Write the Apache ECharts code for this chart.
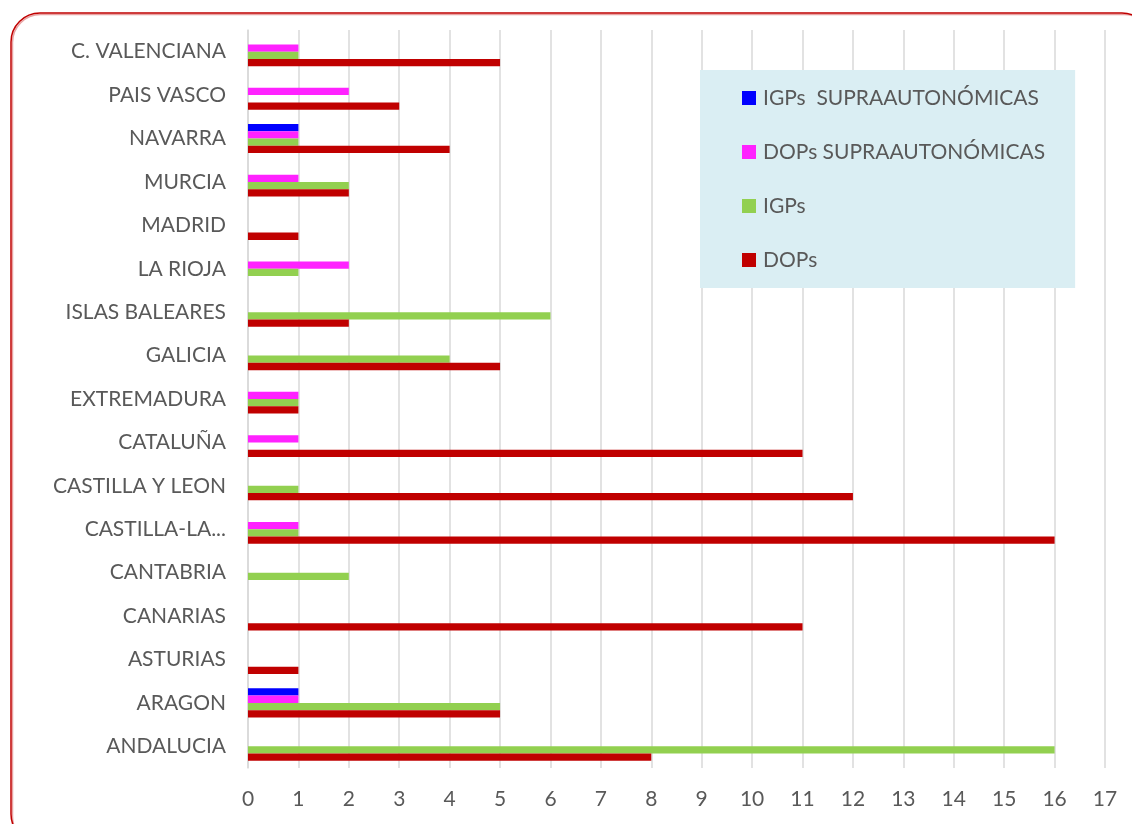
<!DOCTYPE html>
<html>
<head>
<meta charset="utf-8">
<script src="https://cdn.jsdelivr.net/npm/echarts@6/dist/echarts.min.js"></script>
<style>
  html, body { margin: 0; padding: 0; background: #fff; }
  #chart { width: 1132px; height: 824px; }
</style>
</head>
<body>
<div id="chart"></div>
<script>
// categories, bottom to top as on the axis
const regions = [
  "ANDALUCIA", "ARAGON", "ASTURIAS", "CANARIAS", "CANTABRIA",
  "CASTILLA-LA MANCHA", "CASTILLA Y LEON", "CATALUÑA", "EXTREMADURA",
  "GALICIA", "ISLAS BALEARES", "LA RIOJA", "MADRID", "MURCIA",
  "NAVARRA", "PAIS VASCO", "C. VALENCIANA"
];
const dops        = [8, 5, 1, 11, 0, 16, 12, 11, 1, 5, 2, 0, 1, 2, 4, 3, 5];
const igps        = [16, 5, 0, 0, 2, 1, 1, 0, 1, 4, 6, 1, 0, 2, 1, 0, 1];
const dopsSupra   = [0, 1, 0, 0, 0, 1, 0, 1, 1, 0, 0, 2, 0, 1, 1, 2, 1];
const igpsSupra   = [0, 1, 0, 0, 0, 0, 0, 0, 0, 0, 0, 0, 0, 0, 1, 0, 0];
const xTicks = { min: 0, max: 17, interval: 1 };

const FONT = "Lato";
const GREY = "#595959";
const FS = 21;

const chart = echarts.init(document.getElementById("chart"));

function bar(name, data, color) {
  return {
    name: name,
    type: "bar",
    data: data,
    barGap: "0%",
    barCategoryGap: "33%",
    itemStyle: { color: color },
    emphasis: { disabled: true }
  };
}

const option = {
  backgroundColor: "#fff",
  animation: false,
  textStyle: { fontFamily: FONT },
  graphic: [
    {
      type: "rect",
      shape: { x: 12.5, y: 14.5, width: 1140, height: 830, r: 28 },
      style: { fill: null, stroke: "#e8a3a3", lineWidth: 1.5 }
    },
    {
      type: "rect",
      shape: { x: 11, y: 13, width: 1140, height: 830, r: 29 },
      style: { fill: null, stroke: "#c00000", lineWidth: 1.5 }
    }
  ],
  legend: {
    orient: "vertical",
    left: 700,
    top: 70,
    padding: [17, 30, 17, 42],
    backgroundColor: "#daeef3",
    itemWidth: 14,
    itemHeight: 14,
    itemGap: 32,
    icon: "rect",
    data: ["IGPs  SUPRAAUTONÓMICAS", "DOPs SUPRAAUTONÓMICAS", "IGPs", "DOPs"],
    textStyle: { color: GREY, fontSize: FS, lineHeight: 22, fontFamily: FONT, padding: [0, 0, 0, 2] }
  },
  grid: { left: 248, right: 27, top: 30, bottom: 56 },
  xAxis: {
    type: "value",
    min: xTicks.min,
    max: xTicks.max,
    interval: xTicks.interval,
    axisLine: { show: false },
    axisTick: { show: false },
    axisLabel: { color: GREY, fontSize: FS, fontFamily: FONT, margin: 21 },
    splitLine: { lineStyle: { color: "#d9d9d9", width: 1.5 } }
  },
  yAxis: {
    type: "category",
    data: regions,
    axisLine: { lineStyle: { color: "#d9d9d9", width: 1.5 } },
    axisTick: { length: 6, lineStyle: { color: "#d9d9d9", width: 1.5 } },
    axisLabel: {
      color: GREY,
      fontSize: FS,
      fontFamily: FONT,
      margin: 22,
      interval: 0,
      formatter: function (v) {
        return v.length > 16 ? v.slice(0, 11) + "..." : v;
      }
    }
  },
  series: [
    bar("IGPs  SUPRAAUTONÓMICAS", igpsSupra, "#0000ff"),
    bar("DOPs SUPRAAUTONÓMICAS", dopsSupra, "#ff22ff"),
    bar("IGPs", igps, "#92d050"),
    bar("DOPs", dops, "#c00000")
  ]
};

chart.setOption(option);
</script>
</body>
</html>
